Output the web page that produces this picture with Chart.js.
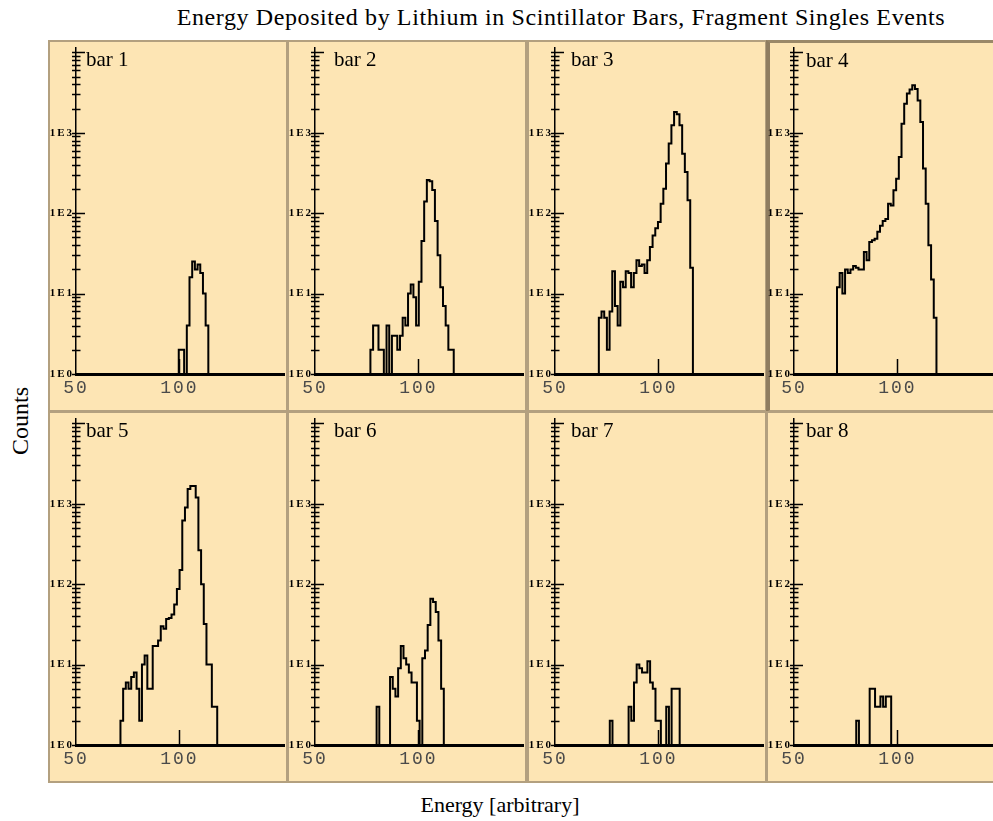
<!DOCTYPE html>
<html>
<head>
<meta charset="utf-8">
<script src="https://cdn.jsdelivr.net/npm/chart.js@4/dist/chart.umd.min.js"></script>
<style>
  html, body { margin: 0; padding: 0; background: #fff; }
  body { width: 993px; height: 821px; position: relative; overflow: hidden; font-family: "Liberation Serif", "Times New Roman", serif; }
  #title { position: absolute; left: 0; top: 4px; width: 1122px; text-align: center; font-size: 24px; letter-spacing: 0.6px; color: #000; white-space: nowrap; }
  #ylab { position: absolute; left: 20px; top: 421px; font-size: 24px; transform: translate(-50%, -50%) rotate(-90deg); white-space: nowrap; }
  #xlab { position: absolute; left: 500px; top: 805px; font-size: 22px; transform: translate(-50%, -50%); white-space: nowrap; }
  .panel { position: absolute; width: 240px; height: 372px; box-sizing: border-box; border: 2px solid #b3a07f; background: #fde5b4; }
  .panel canvas { position: absolute; left: 0; top: 0; }
  .barlab { position: absolute; top: 7px; font-size: 21px; line-height: 20px; color: #000; white-space: nowrap; }
</style>
</head>
<body>
<div id="title">Energy Deposited by Lithium in Scintillator Bars, Fragment Singles Events</div>
<div id="ylab">Counts</div>
<div id="xlab">Energy [arbitrary]</div>
<div id="grid"></div>

<script>
// DATA

const barNames = ['bar 1', 'bar 2', 'bar 3', 'bar 4', 'bar 5', 'bar 6', 'bar 7', 'bar 8'];

const BIN_WIDTH = 1.3;

// energy of the first filled bin in each bar
const binStarts = [99.7, 76.8, 71.2, 70.8, 71.5, 79.8, 76.5, 80.1];

const bar1Counts = [2, 2, 0, 4, 16, 25, 20, 23, 18, 10, 4];
const bar2Counts = [2, 4, 4, 2, 2, 0, 4, 0, 3, 3, 2, 3, 5, 4, 10, 13, 9, 4, 14, 45, 140, 258, 250, 195, 80, 30, 12, 7, 4, 2, 2];
const bar3Counts = [5, 6, 5, 2, 6, 19, 7, 4, 14, 12, 19, 18, 12, 18, 26, 22, 23, 18, 26, 38, 53, 65, 78, 131, 202, 415, 735, 1240, 1820, 1700, 1240, 550, 326, 145, 21];
const bar4Counts = [12, 18, 10, 20, 18, 20, 22, 21, 20, 20, 33, 26, 44, 46, 48, 59, 70, 80, 85, 131, 125, 193, 269, 500, 1300, 2300, 3080, 3460, 3900, 3500, 2530, 1360, 360, 131, 40, 15, 5];
const bar5Counts = [2, 5, 6, 5, 7, 8, 5, 2, 10, 13, 5, 5, 17, 17, 20, 30, 28, 37, 38, 42, 56, 87, 150, 620, 900, 1530, 1660, 1660, 1200, 265, 100, 32, 10, 10, 3, 3];
const bar6Counts = [3, 0, 0, 0, 0, 7, 5, 4, 9, 17, 12, 10, 8, 6, 6, 2, 1, 12, 15, 31, 66, 60, 45, 20, 5];
const bar7Counts = [2, 0, 0, 0, 0, 0, 0, 3, 2, 6, 10, 9, 8, 8, 11, 6, 5, 2, 2, 0, 0, 3, 1, 5, 5, 5];
const bar8Counts = [2, 0, 0, 0, 0, 5, 5, 3, 3, 4, 3, 4, 4];

const barCounts = [bar1Counts, bar2Counts, bar3Counts, bar4Counts, bar5Counts, bar6Counts, bar7Counts, bar8Counts];

const xTicks = [50, 100];
const yTicks = [1, 10, 100, 1000];
const yTickLabels = ['1E0', '1E1', '1E2', '1E3'];


// LAYOUT

const panelLeft = [48, 287, 527, 766];
const panelTop = [40, 411];
const labelLeft = [36, 45, 42, 38];


// step outline of one histogram (log axis: empty bins sit on the 1E0 floor)

function histPoints(start, counts){
    const pts = [{x: start, y: 1}];
    counts.forEach((c, i)=>{
        pts.push({x: start + i * BIN_WIDTH, y: Math.max(c, 1)});
    });
    pts.push({x: start + counts.length * BIN_WIDTH, y: 1});
    return pts;
}


// spaced out tick lettering, like the old plotting program

const spacedText = {
    id: 'spacedText',
    beforeDraw(chart){
        chart.ctx.letterSpacing = '2px';
    }
};


// tick marks crossing the axes

const axisTicks = {
    id: 'axisTicks',
    afterDraw(chart){
        const ctx = chart.ctx;
        const area = chart.chartArea;
        const y = chart.scales.y;
        const x = chart.scales.x;
        const ax = area.left;

        ctx.save();
        ctx.strokeStyle = '#000';
        ctx.lineWidth = 1.5;
        ctx.beginPath();
        for(let d = 1; d <= 10000; d *= 10){
            for(let m = 1; m <= 9; m++){
                const v = m * d;
                if(v > y.max) break;
                const py = Math.round(y.getPixelForValue(v)) + 0.5;
                ctx.moveTo(ax - 4, py);
                ctx.lineTo(ax + (m === 1 ? 9 : 4.5), py);
            }
        }
        // tick at 100
        const px = Math.round(x.getPixelForValue(100)) + 0.5;
        ctx.moveTo(px, area.bottom);
        ctx.lineTo(px, area.bottom - 15);
        ctx.stroke();
        ctx.restore();
    }
};


// PANELS

const grid = document.getElementById('grid');

barNames.forEach((name, i)=>{

    const col = i % 4;
    const row = Math.floor(i / 4);

    const panel = document.createElement('div');
    panel.className = 'panel';
    panel.style.left = panelLeft[col] + 'px';
    panel.style.top = panelTop[row] + 'px';
    if(i === 3){
        panel.style.borderLeft = '4px solid #8f7d60';
        panel.style.borderTop = '3px solid #9a8868';
    }

    const canvas = document.createElement('canvas');
    canvas.width = 236;
    canvas.height = 368;
    if(i === 3){
        canvas.style.left = '-2px';
        canvas.style.top = '-1px';
    }
    panel.appendChild(canvas);

    const lab = document.createElement('div');
    lab.className = 'barlab';
    lab.style.left = labelLeft[col] + (i === 3 ? -2 : 0) + 'px';
    lab.textContent = name;
    panel.appendChild(lab);

    grid.appendChild(panel);

    new Chart(canvas, {

        type: 'line',

        data: {
            datasets: [{
                label: name,
                data: histPoints(binStarts[i], barCounts[i]),
                borderColor: '#000',
                borderWidth: 2,
                stepped: true,
                pointRadius: 0,
                fill: false
            }]
        },

        options: {
            responsive: false,
            animation: false,
            events: [],
            layout: {
                padding: { top: 6, right: 2, left: 0, bottom: 0 }
            },
            plugins: {
                legend: { display: false },
                tooltip: { enabled: false }
            },
            scales: {
                x: {
                    type: 'linear',
                    min: 50,
                    max: 150.6,
                    grid: { display: false },
                    border: { color: '#000', width: 3 },
                    ticks: {
                        autoSkip: false,
                        maxRotation: 0,
                        padding: -5,
                        color: '#4a4a4a',
                        font: { family: '"Liberation Mono", monospace', size: 18 },
                        callback: v => String(v)
                    },
                    afterBuildTicks: s => { s.ticks = xTicks.map(v => ({value: v})); },
                    afterFit: s => { s.height = 36; }
                },
                y: {
                    type: 'logarithmic',
                    min: 1,
                    max: 11350,
                    grid: { display: false },
                    border: { color: '#000', width: 1.5 },
                    ticks: {
                        autoSkip: false,
                        padding: -6,
                        color: '#000',
                        font: { family: '"Liberation Serif", serif', size: 11, weight: 'bold' },
                        callback: (v, idx) => yTickLabels[idx]
                    },
                    afterBuildTicks: s => { s.ticks = yTicks.map(v => ({value: v})); },
                    afterFit: s => { s.width = 26; }
                }
            }
        },

        plugins: [spacedText, axisTicks]

    });

});
</script>
</body>
</html>
